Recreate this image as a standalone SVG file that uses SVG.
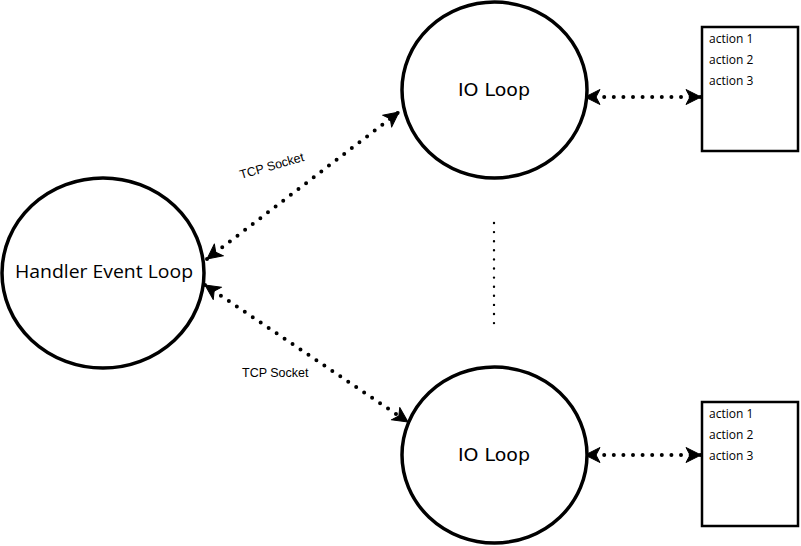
<svg xmlns="http://www.w3.org/2000/svg" width="801" height="546" viewBox="0 0 801 546">
<defs>
<marker id="ah" markerUnits="userSpaceOnUse" markerWidth="18" markerHeight="18" viewBox="0 0 18 18" refX="16" refY="9" orient="auto-start-reverse">
<path d="M1,1.5 L16,9 L1,16.5 L5,9 z" fill="#000" stroke="#000" stroke-width="1" stroke-linejoin="round"/>
</marker>
<style>
.node{fill:#fff;stroke:#000;stroke-width:3.5}
.box{fill:#fff;stroke:#000;stroke-width:2.5}
.conn{fill:none;stroke:#000;stroke-width:4;stroke-linecap:round;stroke-dasharray:0 9.6}
.lbl{font-family:"Liberation Sans",Arial,sans-serif;font-size:12.5px;fill:#000}
.title{font-family:"DejaVu Sans",Verdana,sans-serif;font-size:18px;fill:#000;text-anchor:middle}
.hand{font-family:"Open Sans","DejaVu Sans",sans-serif;font-size:18px;fill:#000;text-anchor:middle}
.act{font-family:"Open Sans","DejaVu Sans",sans-serif;font-size:12px;fill:#000}
</style>
</defs>
<rect width="801" height="546" fill="#fff"/>
<g id="connectors">
<line class="conn" x1="207" y1="259" x2="399" y2="112" marker-start="url(#ah)" marker-end="url(#ah)"/>
<line class="conn" x1="205" y1="285" x2="408" y2="422" marker-start="url(#ah)" marker-end="url(#ah)"/>
<line class="conn" x1="585" y1="97" x2="701" y2="97" marker-start="url(#ah)" marker-end="url(#ah)"/>
<line class="conn" x1="585" y1="455" x2="701" y2="455" marker-start="url(#ah)" marker-end="url(#ah)"/>
<line x1="494" y1="223" x2="494" y2="324" stroke="#000" stroke-width="2.4" stroke-linecap="round" stroke-dasharray="0 9.1"/>
<text class="lbl" transform="translate(241,179) rotate(-16)">TCP Socket</text>
<text class="lbl" x="242" y="377">TCP Socket</text>
</g>
<g id="handler">
<ellipse class="node" cx="103" cy="273" rx="101" ry="95"/>
<text class="hand" x="104" y="278" textLength="178" lengthAdjust="spacingAndGlyphs">Handler Event Loop</text>
</g>
<g id="io-top">
<ellipse class="node" cx="494.5" cy="90" rx="92.5" ry="88"/>
<text class="title" x="494" y="96" textLength="72" lengthAdjust="spacingAndGlyphs">IO Loop</text>
</g>
<g id="io-bottom">
<ellipse class="node" cx="494.5" cy="455" rx="92.5" ry="88"/>
<text class="title" x="494" y="461" textLength="72" lengthAdjust="spacingAndGlyphs">IO Loop</text>
</g>
<g id="actions-top">
<rect class="box" x="702" y="27" width="96" height="124"/>
<text class="act" x="709" y="43">action 1</text>
<text class="act" x="709" y="64">action 2</text>
<text class="act" x="709" y="85">action 3</text>
</g>
<g id="actions-bottom">
<rect class="box" x="702" y="402" width="96" height="124"/>
<text class="act" x="709" y="418">action 1</text>
<text class="act" x="709" y="439">action 2</text>
<text class="act" x="709" y="460">action 3</text>
</g>
</svg>
